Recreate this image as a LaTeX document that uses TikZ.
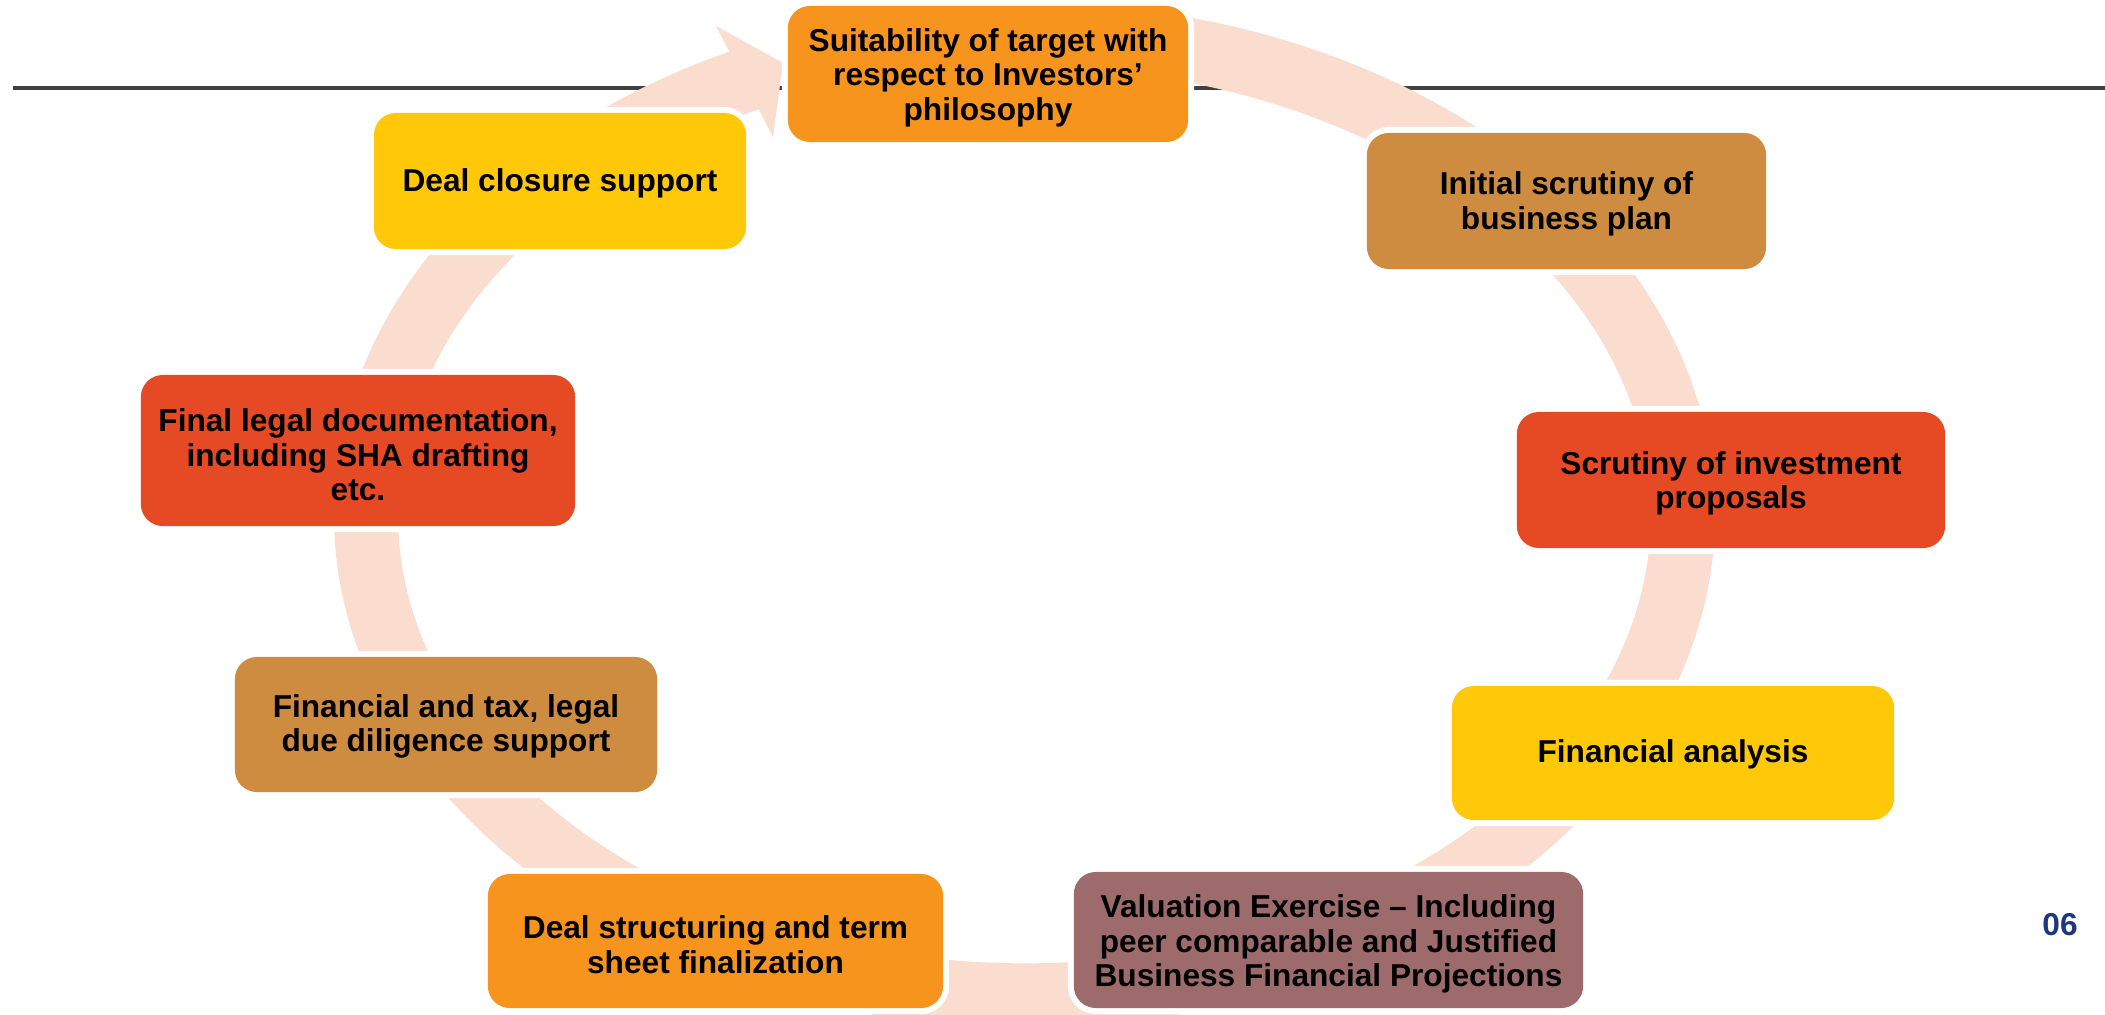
\documentclass[tikz,border=0pt]{standalone}
\usepackage{fontspec}
\setmainfont{Liberation Sans}
\definecolor{ringc}{RGB}{251,221,207}
\definecolor{orangeb}{RGB}{247,148,30}
\definecolor{tanb}{RGB}{206,140,64}
\definecolor{redb}{RGB}{230,74,36}
\definecolor{yellowb}{RGB}{255,201,10}
\definecolor{mauveb}{RGB}{157,107,107}
\definecolor{numblue}{RGB}{30,55,125}
\definecolor{rulegray}{RGB}{64,64,64}
\begin{document}
\begin{tikzpicture}[x=0.01cm,y=-0.01cm,
  stepbox/.style={rounded corners=0.22cm, inner sep=0pt,
    preaction={draw=white, line width=0.12cm}},
  steptext/.style={inner sep=0pt, align=center,
    font=\fontsize{9}{9.8}\selectfont\bfseries, text=black},
  ringline/.style={draw=ringc, line width=0.64cm},
]
\fill[white] (0,0) rectangle (2105,1015);
\useasboundingbox (0,0) rectangle (2105,1015);

% header rule
\coordinate (l1) at (13,88);
\coordinate (l2) at (2105,88);
\draw[rulegray, line width=0.032cm] (l1) -- (l2);

% cycle ring with arrow
\coordinate (ctr) at (1024.5,515);
\draw[ringline] (ctr) ++(80:6.58cm and 4.8cm)
  arc[start angle=80, end angle=-246, x radius=6.58cm, y radius=4.8cm];
\coordinate (ah1) at (716,26);
\coordinate (ah2) at (783,63);
\coordinate (ah3) at (773,137);
\fill[ringc] (ah1) -- (ah2) -- (ah3) -- cycle;

% boxes
\node[stepbox, fill=orangeb, minimum width=4.00cm, minimum height=1.36cm] (s1) at (988,74) {};
\node[stepbox, fill=tanb, minimum width=3.99cm, minimum height=1.36cm] (s2) at (1566.5,201) {};
\node[stepbox, fill=redb, minimum width=4.28cm, minimum height=1.36cm] (s3) at (1731,480) {};
\node[stepbox, fill=yellowb, minimum width=4.42cm, minimum height=1.34cm] (s4) at (1673,753) {};
\node[stepbox, fill=mauveb, minimum width=5.09cm, minimum height=1.36cm] (s5) at (1328.5,940) {};
\node[stepbox, fill=orangeb, minimum width=4.55cm, minimum height=1.34cm] (s6) at (715.5,941) {};
\node[stepbox, fill=tanb, minimum width=4.22cm, minimum height=1.35cm] (s7) at (446,724.5) {};
\node[stepbox, fill=redb, minimum width=4.34cm, minimum height=1.51cm] (s8) at (358,450.5) {};
\node[stepbox, fill=yellowb, minimum width=3.72cm, minimum height=1.36cm] (s9) at (560,181) {};

% box texts
\node[steptext] (t1) at ([yshift=-0.038cm]s1.center)
  {Suitability of target with\\respect to Investors’\\philosophy};
\node[steptext] (t2) at ([yshift=-0.03cm]s2.center)
  {Initial scrutiny of\\business plan};
\node[steptext] (t3) at ([yshift=-0.035cm]s3.center)
  {Scrutiny of investment\\proposals};
\node[steptext] (t4) at ([yshift=-0.01cm]s4.center)
  {Financial analysis};
\node[steptext] (t5) at ([yshift=-0.04cm]s5.center)
  {Valuation Exercise – Including\\peer comparable and Justified\\Business Financial Projections};
\node[steptext] (t6) at ([yshift=-0.035cm]s6.center)
  {Deal structuring and term\\sheet finalization};
\node[steptext] (t7) at ([yshift=-0.02cm]s7.center)
  {Financial and tax, legal\\due diligence support};
\node[steptext] (t8) at ([yshift=-0.045cm]s8.center)
  {Final legal documentation,\\including SHA drafting\\etc.};
\node[steptext] (t9) at ([yshift=-0.02cm]s9.center)
  {Deal closure support};

% page number
\node[font=\fontsize{9}{9.8}\selectfont\bfseries, text=numblue, inner sep=0pt] (pg) at (2060,925) {06};
\end{tikzpicture}
\end{document}
